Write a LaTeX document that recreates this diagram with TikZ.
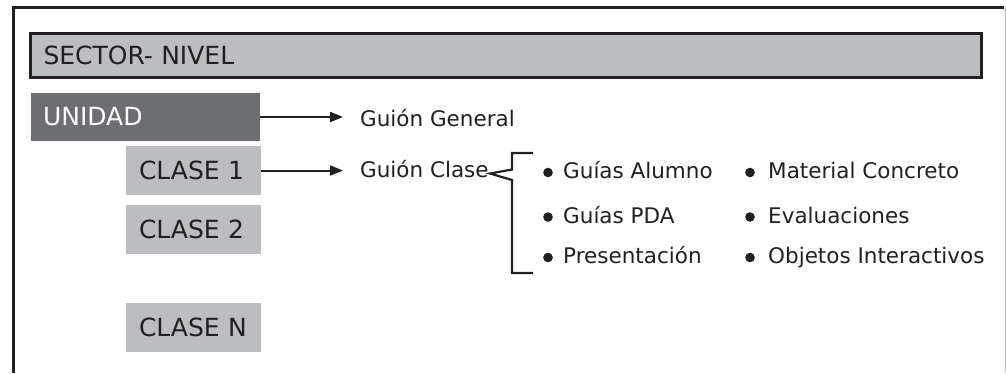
\documentclass[tikz,border=0pt]{standalone}
\usepackage{fontspec}
\setmainfont{DejaVu Sans}
\usetikzlibrary{arrows.meta}
\definecolor{ink}{HTML}{231F20}
\definecolor{lgray}{HTML}{BCBDC0}
\definecolor{dgray}{HTML}{6D6E71}
\begin{document}
\begin{tikzpicture}[x=1pt,y=-1pt,
  box/.style={inner xsep=13pt, inner ysep=0pt, align=left, font=\fontsize{25}{29}\selectfont, text=ink},
  clase/.style={box, fill=lgray, text width=109pt, minimum height=49pt},
  lbl/.style={anchor=base west, inner sep=0pt, font=\fontsize{21.5}{26}\selectfont, text=ink},
  arr/.style={line width=2pt, draw=ink, shorten >=17pt, -{Triangle[length=13pt,width=10pt]}},
  bul/.style={fill=ink},
]
\useasboundingbox (0,0) rectangle (1006,373);
% outer frame
\draw[line width=3pt, ink] (13,373) -- (13,7) -- (1004,7);
\draw[line width=1pt, black!25] (1005,7) -- (1005,373);

% header
\node[box, fill=lgray, draw=ink, line width=3pt, text width=925pt, minimum height=44pt] (sector) at (506,55.5) {SECTOR- NIVEL};

% unidad
\node[box, fill=dgray, text=white, inner xsep=12pt, text width=205pt, minimum height=48pt] (unidad) at (145.5,117) {UNIDAD};

% clases
\node[clase] (c1) at (193.5,170.5) {CLASE 1};
\node[clase] (c2) at (193.5,229.5) {CLASE 2};
\node[clase] (cn) at (193.5,327.5) {CLASE N};

% labels
\node[lbl] (gg) at (360,126) {Guión General};
\node[lbl] (gc) at (360,177) {Guión Clase};

\draw[arr] (unidad.east) -- (unidad.east -| gg.west);
\draw[arr] (c1.east) -- (c1.east -| gc.west);

% brace
\coordinate (tip) at (490,173.5);
\draw[line width=2.2pt, ink] (533,153) -- (512,153) -- (512,169.5) -- (tip) -- (512,180) -- (512,273) -- (533,273);

% items
\node[lbl] (i1) at (563,178) {Guías Alumno};
\node[lbl] (i2) at (563,223) {Guías PDA};
\node[lbl] (i3) at (563,263) {Presentación};
\node[lbl] (i4) at (768,178) {Material Concreto};
\node[lbl] (i5) at (768,223) {Evaluaciones};
\node[lbl] (i6) at (768,263) {Objetos Interactivos};
\foreach \y in {172.5,217,257.5} {
  \fill[bul] (548,\y) circle (4.8pt);
  \fill[bul] (750,\y) circle (4.8pt);
}
\end{tikzpicture}
\end{document}
